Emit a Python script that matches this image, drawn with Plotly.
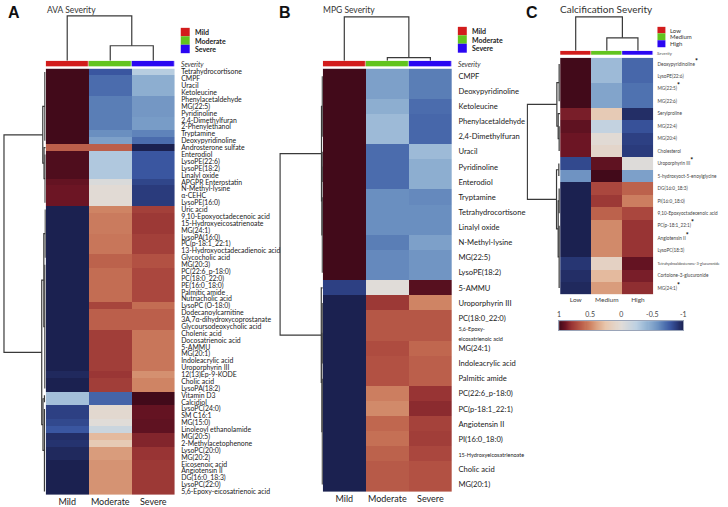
import numpy as np
import plotly.graph_objects as go

W, H = 728, 507

# ---------------- data ----------------
A_groups = ["Mild", "Moderate", "Severe"]
A_rows = ["Tetrahydrocortisone", "CMPF", "Uracil", "Ketoleucine", "Phenylacetaldehyde", "MG(22:5)",
          "Pyridinoline", "2,4-Dimethylfuran", "2-Phenylethanol", "Tryptamine", "Deoxypyridinoline",
          "Androsterone sulfate", "Enterodiol", "LysoPE(22:6)", "LysoPE(18:2)", "Linalyl oxide",
          "APGPR Enterostatin", "N-Methyl-lysine", "α-CEHC", "LysoPE(16:0)", "Uric acid",
          "9,10-Epoxyoctadecenoic acid", "15-Hydroxyeicosatrienoate", "MG(24:1)", "LysoPA(16:0)",
          "PC(p-18:1_22:1)", "13-Hydroxyoctadecadienoic acid", "Glycocholic acid", "MG(20:3)",
          "PC(22:6_p-18:0)", "PC(18:0_22:0)", "PE(16:0_18:0)", "Palmitic amide", "Nutriacholic acid",
          "LysoPC (O-18:0)", "Dodecanoylcarnitine", "3A,7α-dihydroxycoprostanate",
          "Glycoursodeoxycholic acid", "Cholenic acid", "Docosatrienoic acid", "5-AMMU", "MG(20:1)",
          "Indoleacrylic acid", "Uroporphyrin III", "12(13)Ep-9-KODE", "Cholic acid", "LysoPA(18:2)",
          "Vitamin D3", "Calcidiol", "LysoPC(24:0)", "SM C16:1", "MG(15:0)", "Linoleoyl ethanolamide",
          "MG(20:5)", "2-Methylacetophenone", "LysoPC(20:0)", "MG(20:2)", "Eicosenoic acid",
          "Angiotensin II", "DG(16:0_18:3)", "LysoPC(22:0)", "5,6-Epoxy-eicosatrienoic acid"]
A_mild = [1.0, 1.0, 1.0, 1.0, 1.0, 1.0, 1.0, 1.0, 1.0, 1.0, 1.0,
          0.63, 0.97, 0.97, 0.97, 0.97, 0.92, 0.9, 0.9, 0.9,
          -1, -1, -1, -1, -1, -1, -1, -1, -1, -1, -1, -1, -1, -1, -1, -1, -1, -1, -1, -1, -1, -1, -1,
          -1, -0.97, -1, -1,
          -0.35, -0.35, -0.88, -0.88, -0.85, -0.8, -0.95, -0.93, -0.97, -0.97, -1, -1, -1, -1, -1]
A_moderate = [-0.8, -0.72, -0.72, -0.72, -0.66, -0.66, -0.66, -0.66, -0.66, -0.6, -0.52,
              0.63, -0.3, -0.3, -0.3, -0.3, -0.05, 0.02, 0.02, 0.02,
              0.5, 0.53, 0.53, 0.53, 0.55, 0.55, 0.55, 0.62, 0.62, 0.58, 0.58, 0.58, 0.58, 0.58,
              0.73, 0.63, 0.63, 0.63, 0.76, 0.76, 0.76, 0.76, 0.76, 0.76, 0.79, 0.76, 0.76,
              -0.75, -0.75, 0.05, 0.05, 0.0, -0.15, 0.3, 0.2, 0.42, 0.42, 0.45, 0.45, 0.45, 0.45, 0.45]
A_severe = [-0.27, -0.45, -0.45, -0.45, -0.56, -0.56, -0.56, -0.54, -0.54, -0.64, -0.72,
            -1.0, -0.8, -0.8, -0.8, -0.8, -0.86, -0.9, -0.9, -0.9,
            0.75, 0.78, 0.78, 0.78, 0.75, 0.75, 0.75, 0.68, 0.68, 0.72, 0.72, 0.72, 0.72, 0.72,
            0.58, 0.63, 0.63, 0.63, 0.55, 0.55, 0.55, 0.55, 0.55, 0.55, 0.46, 0.5, 0.5,
            1.0, 1.0, 0.92, 0.92, 0.93, 0.93, 0.85, 0.85, 0.8, 0.8, 0.78, 0.78, 0.78, 0.78, 0.78]

B_groups = ["Mild", "Moderate", "Severe"]
B_rows = ["CMPF", "Deoxypyridinoline", "Ketoleucine", "Phenylacetaldehyde", "2,4-Dimethylfuran",
          "Uracil", "Pyridinoline", "Enterodiol", "Tryptamine", "Tetrahydrocortisone", "Linalyl oxide",
          "N-Methyl-lysine", "MG(22:5)", "LysoPE(18:2)", "5-AMMU", "Uroporphyrin III", "PC(18:0_22:0)",
          "5,6-Epoxy-eicosatrienoic acid", "MG(24:1)", "Indoleacrylic acid", "Palmitic amide",
          "PC(22:6_p-18:0)", "PC(p-18:1_22:1)", "Angiotensin II", "PI(16:0_18:0)",
          "15-Hydroxyeicosatrienoate", "Cholic acid", "MG(20:1)"]
B_mild = [1, 1, 1, 1, 1, 1, 1, 1, 1, 1, 1, 1, 1, 1,
          -0.88, -1, -1, -1, -1, -1, -1, -1, -1, -1, -1, -1, -1, -1]
B_moderate = [-0.52, -0.52, -0.45, -0.38, -0.38, -0.72, -0.72, -0.72, -0.6, -0.6, -0.6, -0.66, -0.62, -0.62,
              0.0, 0.78, 0.66, 0.66, 0.7, 0.68, 0.68, 0.52, 0.48, 0.6, 0.57, 0.62, 0.65, 0.65]
B_severe = [-0.66, -0.66, -0.72, -0.74, -0.74, -0.38, -0.45, -0.45, -0.62, -0.6, -0.6, -0.52, -0.57, -0.57,
            0.95, 0.5, 0.66, 0.66, 0.6, 0.63, 0.63, 0.8, 0.83, 0.74, 0.76, 0.72, 0.68, 0.68]

C_groups = ["Low", "Medium", "High"]
C_rows = ["Deoxypyridinoline", "LysoPE(22:6)", "MG(22:5)", "MG(22:6)", "Serylproline", "MG(22:4)",
          "MG(20:4)", "Cholesterol", "Uroporphyrin III", "5-hydroxyoct-5-enoylglycine", "DG(16:0_18:3)",
          "PI(16:0_18:0)", "9,10-Epoxyoctadecenoic acid", "PC(p-18:1_22:1)", "Angiotensin II",
          "LysoPC(18:3)", "Tetrahydroaldosterone-3-glucuronide", "Cortolone-3-glucuronide", "MG(24:1)"]
C_significant = [1, 0, 1, 0, 0, 0, 0, 0, 1, 0, 0, 0, 0, 1, 1, 0, 0, 0, 1]
C_low = [1, 1, 1, 1, 0.87, 0.93, 0.9, 0.9, -0.85, -0.58, -1, -1, -1, -1, -1, -1, -0.92, -0.95, -0.97]
C_medium = [-0.38, -0.38, -0.5, -0.5, 0.2, -0.2, 0.02, 0.08, 0.93, 1.0, 0.72, 0.78, 0.62, 0.48, 0.48, 0.48,
            0.12, 0.3, 0.42]
C_high = [-0.74, -0.74, -0.7, -0.7, -0.95, -0.82, -0.88, -0.9, -0.02, -0.52, 0.62, 0.52, 0.72, 0.8, 0.8, 0.8,
          0.92, 0.87, 0.82]

# dendrogram structure: (left, right, merge height); ("c", first, last, height) = tight leaf cluster
A_col_tree = (0, (1, 2, 0.333), 1.0)
A_row_tree = (((("c", 0, 10, 0.02), (11, ("c", 12, 19, 0.015), 0.04), 0.07)),
              ((("c", 20, 27, 0.01), ("c", 28, 46, 0.02), 0.045),
               (("c", 47, 48, 0.03), ("c", 49, 61, 0.03), 0.065), 0.095), 1.0)
B_col_tree = (0, (1, 2, 0.068), 1.0)
B_row_tree = ((("c", 0, 4, 0.01), (("c", 5, 7, 0.01), ("c", 8, 13, 0.01), 0.02), 0.03),
              (14, (("c", 15, 19, 0.01), ("c", 20, 27, 0.01), 0.02), 0.035), 1.0)
C_col_tree = (0, (1, 2, 0.38), 1.0)
C_row_tree = ((("c", 0, 3, 0.03), (4, ("c", 5, 7, 0.03), 0.06), 0.1),
              (("c", 8, 9, 0.04), (("c", 10, 12, 0.03), ("c", 13, 18, 0.03), 0.06), 0.11), 1.0)

CB_ticks = [1, 0.5, 0, -0.5, -1]

# ---------------- styling ----------------
CS = [[0.0, "#1b2150"], [0.05, "#2a3b7c"], [0.1, "#3a56a0"], [0.15, "#4f72b0"], [0.2, "#6a8fc0"],
      [0.25, "#82a4cb"], [0.3, "#98b7d5"], [0.375, "#bcd0e2"], [0.5, "#e0dcd8"], [0.625, "#e8c6ac"],
      [0.7, "#dba282"], [0.75, "#cf8464"], [0.8, "#c0674f"], [0.85, "#ae4c40"], [0.9, "#983434"],
      [0.95, "#6c1524"], [1.0, "#420a1a"]]
GROUP_COLORS = ["#d21c1c", "#62c41e", "#2a06f2"]
FONT = "Lato, Liberation Sans, sans-serif"
LINE = "#3a3a3a"


def px_x(a, b):
    return [a / W, b / W]


def px_y(top, bottom):
    return [1 - bottom / H, 1 - top / H]


def xn(i):
    return "x" if i == 1 else f"x{i}"


def yn(i):
    return "y" if i == 1 else f"y{i}"


def xk(i):
    return "xaxis" if i == 1 else f"xaxis{i}"


def yk(i):
    return "yaxis" if i == 1 else f"yaxis{i}"


def tree_lines(node):
    pos, hts = [], []

    def rec(n):
        if isinstance(n, int):
            return float(n), 0.0
        if n[0] == "c":
            _, a, b, h = n
            pos.extend([a, b, None]); hts.extend([h, h, None])
            return (a + b) / 2.0, h
        l, r, h = n
        lp, lh = rec(l)
        rp, rh = rec(r)
        pos.extend([lp, lp, rp, rp, None]); hts.extend([lh, h, h, rh, None])
        return (lp + rp) / 2.0, h

    rec(node)
    return pos, hts


fig = go.Figure()
layout = dict(width=W, height=H, margin=dict(l=0, r=0, t=0, b=0), paper_bgcolor="white",
              plot_bgcolor="white", showlegend=False, font=dict(family=FONT, color="#222"))
HID = dict(visible=False, fixedrange=True)


def labels_for(panel, rows):
    out = []
    for i, r in enumerate(rows):
        if panel == "B" and r == "5,6-Epoxy-eicosatrienoic acid":
            out.append("<span style='font-size:5.5px'>5,6-Epoxy-<br>eicosatrienoic acid</span>")
        elif panel == "B" and r == "15-Hydroxyeicosatrienoate":
            out.append("<span style='font-size:5.5px'>" + r + "</span>")
        elif panel == "C":
            t = r
            if r.startswith("Tetrahydroaldosterone"):
                t = "<span style='font-size:3.8px'>" + r + "</span>"
            if C_significant[i]:
                t += "<sup><span style='font-size:7px;color:#000'><b>*</b></span></sup>"
            out.append(t)
        else:
            out.append(r)
    return out


panels = [
    dict(name="A", groups=A_groups, rows=A_rows, vals=(A_mild, A_moderate, A_severe),
         ct=A_col_tree, rt=A_row_tree, hx=(44, 174), hy=(68, 497), bar=(60, 66), dc_root=15,
         dr_root=2, lab=6.9, lab_len=4, xlab=9, xcol="#222"),
    dict(name="B", groups=B_groups, rows=B_rows, vals=(B_mild, B_moderate, B_severe),
         ct=B_col_tree, rt=B_row_tree, hx=(323, 453), hy=(68, 494), bar=(60, 66), dc_root=16,
         dr_root=280, lab=7.6, lab_len=4, xlab=9, xcol="#222"),
    dict(name="C", groups=C_groups, rows=C_rows, vals=(C_low, C_medium, C_high),
         ct=C_col_tree, rt=C_row_tree, hx=(562, 656), hy=(57, 295), bar=(50, 54.5), dc_root=16,
         dr_root=529, lab=4.7, lab_len=2, xlab=6.5, xcol="#444"),
]

for p, P in enumerate(panels):
    ixh, ixd = 2 * p + 1, 2 * p + 2
    iyh, iyb, iyd = 3 * p + 1, 3 * p + 2, 3 * p + 3
    n = len(P["rows"])
    z = [list(t) for t in zip(*P["vals"])]
    fig.add_trace(go.Heatmap(z=z, x=[0, 1, 2], y=list(range(n)), colorscale=CS, zmin=-1, zmax=1,
                             showscale=False, xaxis=xn(ixh), yaxis=yn(iyh), hoverinfo="skip"))
    # severity bar
    fig.add_trace(go.Heatmap(z=[[0, 1, 2]], x=[0, 1, 2], y=[0], zmin=0, zmax=2, showscale=False,
                             colorscale=[[0, GROUP_COLORS[0]], [0.25, GROUP_COLORS[0]], [0.25, GROUP_COLORS[1]],
                                         [0.75, GROUP_COLORS[1]], [0.75, GROUP_COLORS[2]], [1, GROUP_COLORS[2]]],
                             xgap=0.6, xaxis=xn(ixh), yaxis=yn(iyb), hoverinfo="skip"))
    # column dendrogram
    cp, ch = tree_lines(P["ct"])
    fig.add_trace(go.Scatter(x=cp, y=ch, mode="lines", line=dict(color=LINE, width=1.2),
                             xaxis=xn(ixh), yaxis=yn(iyd), hoverinfo="skip"))
    # row dendrogram
    rp, rh = tree_lines(P["rt"])
    fig.add_trace(go.Scatter(x=rh, y=rp, mode="lines", line=dict(color=LINE, width=1.2),
                             xaxis=xn(ixd), yaxis=yn(iyh), hoverinfo="skip"))

    x0, x1 = P["hx"]
    y0, y1 = P["hy"]
    layout[xk(ixh)] = dict(domain=px_x(x0, x1), range=[-0.5, 2.5], anchor=yn(iyh), tickmode="array",
                           tickvals=[0, 1, 2], ticktext=P["groups"], ticks="", showgrid=False,
                           zeroline=False, showline=False, fixedrange=True,
                           tickfont=dict(size=P["xlab"], color=P["xcol"], family=FONT))
    layout[yk(iyh)] = dict(domain=px_y(y0, y1), range=[n - 0.5, -0.5], anchor=xn(ixh), side="right",
                           tickmode="array", tickvals=list(range(n)), ticktext=labels_for(P["name"], P["rows"]),
                           ticks="outside", ticklen=P["lab_len"], tickcolor="rgba(0,0,0,0)",
                           showgrid=False, zeroline=False, showline=False, fixedrange=True,
                           tickfont=dict(size=P["lab"], color="#1a1a1a" if P["name"] != "C" else "#444",
                                         family=FONT))
    b0, b1 = P["bar"]
    layout[yk(iyb)] = dict(HID, domain=px_y(b0, b1), range=[-0.5, 0.5], anchor=xn(ixh))
    root = P["dc_root"]
    layout[yk(iyd)] = dict(HID, domain=px_y(root - 1, b0), range=[0, 1 + 1.0 / (b0 - root)], anchor=xn(ixh))
    dr = P["dr_root"]
    layout[xk(ixd)] = dict(HID, domain=px_x(max(dr - 1, 0), x0), range=[1 + 1.0 / (x0 - dr), 0],
                           anchor=yn(iyh))

# color key (panel C)
cb_x = np.linspace(-1, 1, 121)
fig.add_trace(go.Heatmap(z=[list(cb_x)], x=list(cb_x), y=[0], colorscale=CS, zmin=-1, zmax=1,
                         showscale=False, xaxis="x7", yaxis="y10", hoverinfo="skip"))
layout["xaxis7"] = dict(domain=px_x(561, 686), range=[1, -1], anchor="y10", side="top", tickmode="array",
                        tickvals=CB_ticks, ticktext=[str(v) for v in CB_ticks], ticks="", showgrid=False,
                        zeroline=False, showline=True, mirror=True, linecolor="#9aa4b8", linewidth=1,
                        tickfont=dict(size=7, color="#444", family=FONT), fixedrange=True)
layout["yaxis10"] = dict(domain=px_y(322, 331), range=[-0.5, 0.5], anchor="x7", showticklabels=False,
                         ticks="", showgrid=False, zeroline=False, showline=True, mirror=True,
                         linecolor="#9aa4b8", linewidth=1, fixedrange=True)

# annotations and legend swatches
ann, shapes = [], []


def text(xp, yp, s, size, color="#222", bold=False, italic=False, family=FONT):
    if bold:
        s = "<b>" + s + "</b>"
    if italic:
        s = "<i>" + s + "</i>"
    ann.append(dict(x=xp / W, y=1 - yp / H, xref="paper", yref="paper", text=s, showarrow=False,
                    xanchor="left", yanchor="middle", font=dict(size=size, color=color, family=family)))


text(4, 12, "A", 16, "#111", bold=True, family="Liberation Sans, Arial")
text(277, 12, "B", 16, "#111", bold=True, family="Liberation Sans, Arial")
text(526, 12, "C", 16, "#111", bold=True, family="Liberation Sans, Arial")
text(43, 9, "AVA Severity", 8.5, "#333")
text(321, 9, "MPG Severity", 8.5, "#333")
text(560, 8, "Calcification Severity", 10, "#333")

legend_specs = [
    (A_groups, 180, 189, [27, 35.5, 44, 52.5], 192, 7, True, "#222"),
    (B_groups, 459, 468, [26, 34.5, 43, 52], 471, 7, True, "#222"),
    (C_groups, 660, 668, [26, 32.5, 39.5, 46.5], 671, 6, False, "#333"),
]
for groups, lx0, lx1, ys, tx, fs, bold, col in legend_specs:
    for g, c, ya, yb in zip(groups, GROUP_COLORS, ys[:-1], ys[1:]):
        shapes.append(dict(type="rect", xref="paper", yref="paper", x0=lx0 / W, x1=lx1 / W,
                           y0=1 - yb / H, y1=1 - ya / H, fillcolor=c, line=dict(width=0)))
        text(tx, (ya + yb) / 2, g, fs, col, bold=bold)

text(178, 63, "Severity", 6.8, "#333", italic=True)
text(457, 63, "Severity", 6.8, "#333", italic=True)
text(658, 52.5, "Severity", 4.5, "#555", italic=True)

layout["annotations"] = ann
layout["shapes"] = shapes
fig.update_layout(**layout)
fig.write_html("out.html", config={"displayModeBar": False},
               post_script="document.body.style.margin='0px';document.body.style.padding='0px';")
